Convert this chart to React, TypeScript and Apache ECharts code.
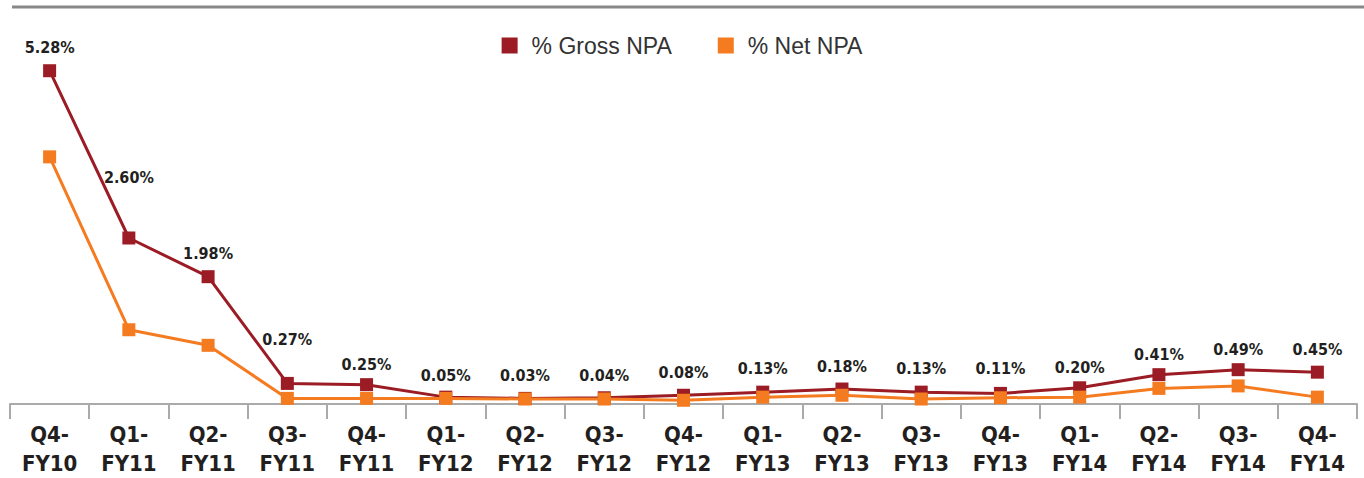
import React, { useEffect, useRef } from "react";
import * as echarts from "echarts";

const categories = [
  "Q4-\nFY10", "Q1-\nFY11", "Q2-\nFY11", "Q3-\nFY11", "Q4-\nFY11",
  "Q1-\nFY12", "Q2-\nFY12", "Q3-\nFY12", "Q4-\nFY12",
  "Q1-\nFY13", "Q2-\nFY13", "Q3-\nFY13", "Q4-\nFY13",
  "Q1-\nFY14", "Q2-\nFY14", "Q3-\nFY14", "Q4-\nFY14",
];
const grossNPA = [5.28, 2.6, 1.98, 0.27, 0.25, 0.05, 0.03, 0.04, 0.08, 0.13, 0.18, 0.13, 0.11, 0.2, 0.41, 0.49, 0.45];
const netNPA = [3.9, 1.13, 0.88, 0.03, 0.03, 0.03, 0.02, 0.02, 0.0, 0.05, 0.08, 0.02, 0.04, 0.05, 0.19, 0.23, 0.05];
// label distance per point (style only)
const labelDistances = [9, 46, 9, 29, 6, 7, 8, 8, 8, 9, 8, 9, 10, 6, 6, 6, 8];

const condensed = "'DejaVu Sans Condensed', 'Liberation Sans Narrow', sans-serif";

export default function App() {
  const ref = useRef<HTMLDivElement>(null);
  useEffect(() => {
    if (!ref.current) return;
    const chart = echarts.init(ref.current, undefined, { renderer: "svg" });
    chart.setOption({
      animation: false,
      backgroundColor: "#ffffff",
      legend: {
        top: 29,
        left: "center",
        itemWidth: 16,
        itemHeight: 16,
        itemGap: 46,
        icon: "rect",
        textStyle: {
          fontSize: 23,
          color: "#333",
          fontFamily: "'Liberation Sans', Arial, sans-serif",
          padding: [0, 0, 0, 9],
        },
        data: ["% Gross NPA", "% Net NPA"],
      },
      graphic: [
        {
          type: "line",
          shape: { x1: 12, y1: 7, x2: 1364, y2: 7 },
          style: { stroke: "#888888", lineWidth: 3 },
        },
      ],
      grid: { left: 10, right: 7, top: 57, bottom: 69, containLabel: false },
      xAxis: {
        type: "category",
        data: categories,
        boundaryGap: true,
        axisLine: { onZero: false, lineStyle: { color: "#aaaaaa", width: 2 } },
        axisTick: { show: true, length: 15, alignWithLabel: false, lineStyle: { color: "#aaaaaa", width: 2 } },
        axisLabel: {
          interval: 0,
          margin: 16,
          fontSize: 22,
          lineHeight: 29,
          fontWeight: "bold",
          color: "#231f20",
          fontFamily: condensed,
        },
      },
      yAxis: {
        type: "value",
        min: -0.06,
        max: 5.5,
        show: false,
        splitLine: { show: false },
      },
      series: [
        {
          name: "% Gross NPA",
          type: "line",
          data: grossNPA.map((v, i) => ({
            value: v,
            label: { distance: labelDistances[i] },
          })),
          symbol: "rect",
          symbolSize: 13,
          itemStyle: { color: "#9b1c24" },
          lineStyle: { color: "#9b1c24", width: 3 },
          label: {
            show: true,
            position: "top",
            formatter: (p: any) => p.value.toFixed(2) + "%",
            fontSize: 16,
            fontWeight: "bold",
            color: "#231f20",
            fontFamily: condensed,
          },
          z: 2,
        },
        {
          name: "% Net NPA",
          type: "line",
          data: netNPA,
          symbol: "rect",
          symbolSize: 13,
          itemStyle: { color: "#f47b20" },
          lineStyle: { color: "#f47b20", width: 3 },
          label: { show: false },
          z: 3,
        },
      ],
    });
    return () => chart.dispose();
  }, []);
  return (
    <div
      ref={ref}
      style={{ position: "fixed", left: 0, top: 0, width: 1364, height: 478 }}
    />
  );
}
